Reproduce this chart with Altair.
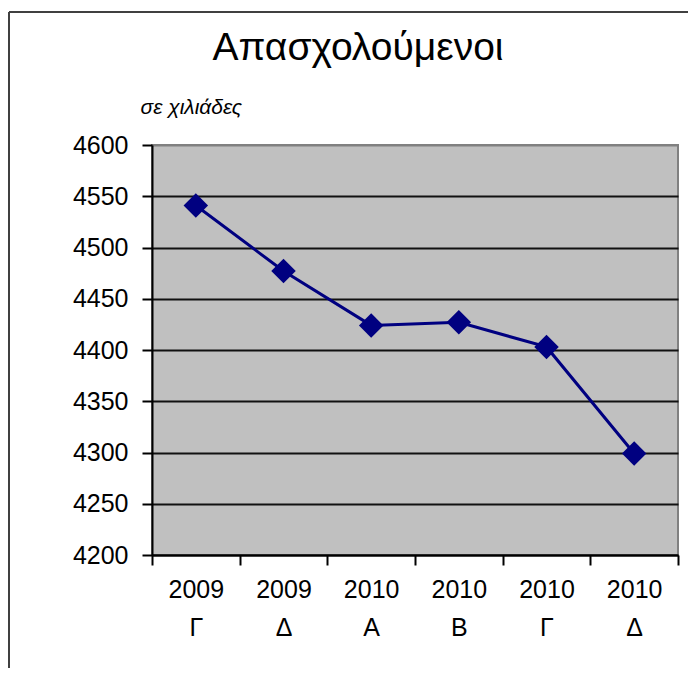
import altair as alt
import pandas as pd

years = ["2009", "2009", "2010", "2010", "2010", "2010"]
quarters = ["Γ", "Δ", "Α", "Β", "Γ", "Δ"]
employed = [4541, 4477, 4424, 4427, 4403, 4299]
chart_title = "Απασχολούμενοι"
unit_label = "σε χιλιάδες"

periods = [f"{y} {q}" for y, q in zip(years, quarters)]
df = pd.DataFrame({"period": periods, "value": employed})

FONT = "Liberation Sans"

x_enc = alt.X(
    "period:N",
    sort=periods,
    bandPosition=0.5,
    scale=alt.Scale(type="band", paddingInner=0, paddingOuter=0),
    axis=alt.Axis(
        title=None,
        labelExpr="split(datum.label, ' ')",
        labelAngle=0,
        labelFont=FONT,
        labelFontSize=25,
        labelColor="black",
        labelLineHeight=38,
        labelPadding=12,
        tickBand="extent",
        tickColor="black",
        tickWidth=2,
        tickSize=10,
        domainColor="black",
        domainWidth=2,
        grid=False,
    ),
)

y_enc = alt.Y(
    "value:Q",
    scale=alt.Scale(domain=[4200, 4600], nice=False, zero=False),
    axis=alt.Axis(
        values=[4200, 4250, 4300, 4350, 4400, 4450, 4500, 4550, 4600],
        format="d",
        title=unit_label,
        titleAngle=0,
        titleX=-12,
        titleY=-32,
        titleAlign="left",
        titleBaseline="alphabetic",
        titleFont=FONT,
        titleFontSize=21,
        titleFontStyle="italic",
        titleFontWeight="normal",
        titleColor="black",
        labelFont=FONT,
        labelFontSize=25,
        labelColor="black",
        labelPadding=14,
        tickColor="black",
        tickWidth=2,
        tickSize=10,
        domainColor="black",
        domainWidth=2,
        grid=True,
        gridColor=alt.condition("datum.value == 4600", alt.value("#808080"), alt.value("#111111")),
        gridWidth=2,
    ),
)

base = alt.Chart(df).encode(x=x_enc, y=y_enc)

line = base.mark_line(color="#000080", strokeWidth=3)
points = base.mark_point(shape="diamond", filled=True, size=600, color="#000080", opacity=1)

one_df = pd.DataFrame({"t": [chart_title]})
frame_left = alt.Chart(one_df).mark_rule(color="#404040", strokeWidth=2).encode(
    x=alt.value(-143), y=alt.value(-133), y2=alt.value(560 + 120)
)
frame_top = alt.Chart(one_df).mark_rule(color="#404040", strokeWidth=2).encode(
    x=alt.value(-143), x2=alt.value(526 + 20), y=alt.value(-133)
)
title_text = alt.Chart(one_df).mark_text(
    font=FONT, fontSize=39, color="black", align="center", baseline="alphabetic"
).encode(text="t:N", x=alt.value(206), y=alt.value(-85))

chart = (
    alt.layer(line, points, frame_left, frame_top, title_text)
    .properties(
        width=526,
        height=410,
        view=alt.ViewBackground(fill="#C0C0C0", stroke="#808080", strokeWidth=2),
        autosize=alt.AutoSizeParams(type="none"),
        padding={"left": 144, "top": 137, "right": 10, "bottom": 113},
    )
    .configure(background="white")
)

chart.save("out.html", embed_options={"renderer": "svg", "actions": False})
